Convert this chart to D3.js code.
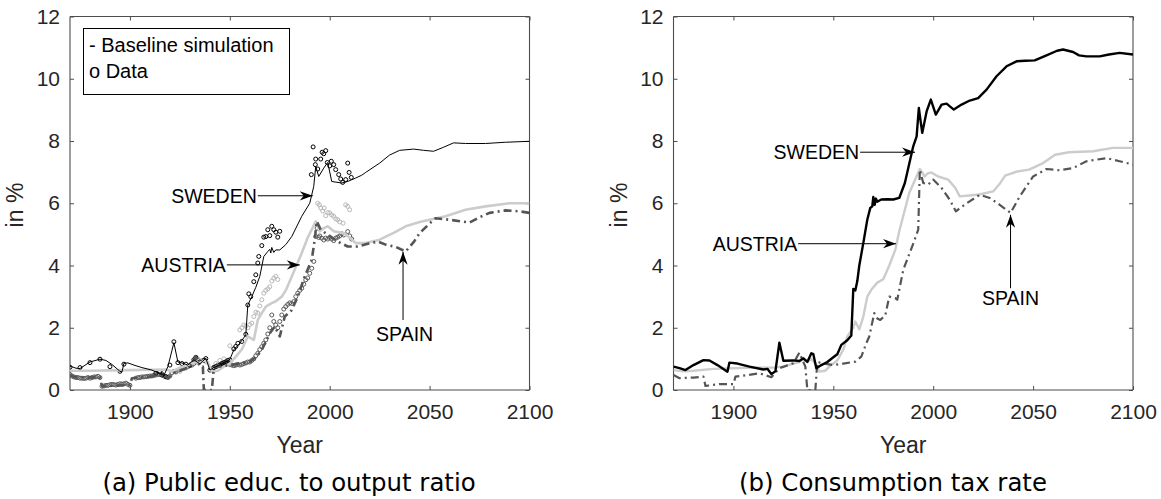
<!DOCTYPE html>
<html><head><meta charset="utf-8">
<script src="https://cdn.jsdelivr.net/npm/d3@7"></script>
<style>body{margin:0;background:#fff}svg{display:block}</style>
</head><body>
<svg id="chart" width="1161" height="499"></svg>
<script>
// ---------- DATA ----------
const xTicks = [1900, 1950, 2000, 2050, 2100];
const yTicks = [0, 2, 4, 6, 8, 10, 12];
const xDomain = [1870, 2100];
const yDomain = [0, 12];
const countries = ["SWEDEN", "AUSTRIA", "SPAIN"];
const panelTitles = ["(a) Public educ. to output ratio", "(b) Consumption tax rate"];
const legendLines = ["- Baseline simulation", "o Data"];

// Panel (a): simulated public education / output (%)
const eduSwedenSim = [[1870,0.77],[1873,0.7],[1875,0.69],[1880,0.9],[1885,0.99],[1888,0.95],[1891,0.82],[1895,0.6],[1896,0.58],[1897,0.86],[1899,0.87],[1902,0.8],[1906,0.72],[1911,0.64],[1914,0.55],[1917,0.47],[1919,0.75],[1922,1.52],[1924,0.9],[1927,0.85],[1929,0.8],[1932,0.97],[1935,0.84],[1938,1.02],[1940,0.64],[1942,0.72],[1945,0.8],[1948,0.9],[1950,0.98],[1952,1.29],[1955,1.5],[1958,1.77],[1959,2.73],[1961,3.0],[1963,3.3],[1965,3.65],[1967,4.29],[1969,4.45],[1970,4.52],[1970.5,4.4],[1971,4.58],[1972,4.42],[1973,4.5],[1975,4.5],[1978,4.67],[1981,4.93],[1986,5.58],[1990,6.0],[1992,6.54],[1993,7.18],[1994.5,6.86],[1997,7.13],[1999,7.31],[2001,6.7],[2006,6.65],[2009,6.7],[2013,6.81],[2016,6.9],[2018,6.99],[2025,7.29],[2030,7.55],[2035,7.7],[2042,7.74],[2047,7.7],[2052,7.67],[2057,7.8],[2062,7.94],[2068,7.92],[2078,7.92],[2088,7.96],[2100,7.99]];
const eduAustriaSim = [[1870,0.62],[1880,0.62],[1890,0.63],[1900,0.64],[1910,0.65],[1918,0.66],[1921,0.6],[1925,0.72],[1930,0.82],[1933,0.9],[1935,0.85],[1937,0.95],[1939,0.9],[1941,0.59],[1944,0.62],[1947,0.75],[1950,0.85],[1953,1.07],[1956,1.3],[1959,1.72],[1962,1.61],[1964,2.25],[1966,2.47],[1968,2.68],[1971,2.79],[1973,2.85],[1976,3.0],[1978,3.2],[1981,3.65],[1984,4.1],[1986,4.4],[1989,4.9],[1991,5.15],[1993,5.42],[1995,5.1],[1997,5.2],[1999,5.26],[2002,5.1],[2007,5.04],[2010,4.9],[2013,4.72],[2018,4.72],[2025,4.83],[2032,5.05],[2038,5.26],[2045,5.4],[2050,5.47],[2058,5.58],[2068,5.79],[2078,5.9],[2090,6.0],[2100,6.0]];
const eduSpainSim = [[1870,0.48],[1872,0.42],[1878,0.4],[1885,0.41],[1886,0.12],[1893,0.14],[1900,0.16],[1901,0.38],[1905,0.4],[1910,0.43],[1915,0.48],[1917,0.48],[1919,0.38],[1922,0.55],[1925,0.62],[1930,0.75],[1933,1.07],[1935,0.75],[1936.5,0.75],[1937,0],[1941,0],[1942,0.72],[1945,0.76],[1950,0.8],[1955,0.85],[1960,0.91],[1963,1.05],[1966,1.29],[1970,1.82],[1972.5,2.04],[1975,1.72],[1977.5,2.36],[1980,2.5],[1981,2.57],[1984,3.0],[1987.5,3.65],[1991,4.18],[1992.5,4.83],[1993.5,5.42],[1995.5,5.15],[1999,4.99],[2004,4.77],[2009,4.61],[2014,4.61],[2019,4.7],[2022,4.74],[2024,4.77],[2028,4.67],[2033,4.6],[2038,4.45],[2042,4.75],[2045,5.04],[2050,5.35],[2053,5.52],[2060,5.47],[2070,5.38],[2075,5.55],[2080,5.69],[2088,5.77],[2095,5.74],[2100,5.69]];

// Panel (a): observed data
const eduSwedenData = [[1870,0.73],[1875,0.72],[1880,0.88],[1885,0.99],[1890,0.75],[1895,0.6],[1897,0.83],[1913,0.54],[1915,0.59],[1916,0.48],[1918,0.43],[1920,0.8],[1922,1.55],[1924,0.88],[1926,0.85],[1928,0.83],[1930,0.8],[1932,0.97],[1933,1.05],[1935,0.9],[1937,0.95],[1938,1.01],[1940,0.64],[1942,0.72],[1943,0.75],[1945,0.8],[1946,0.85],[1947,0.88],[1948,0.9],[1949,0.95],[1950,0.97],[1952,1.32],[1953,1.4],[1954,1.5],[1956,1.56],[1958,1.79],[1959,2.73],[1959.5,3.09],[1960.5,3.0],[1962,3.48],[1963,3.7],[1964,4.08],[1964.5,4.29],[1966,4.64],[1967,4.91],[1968,4.93],[1969,5.15],[1970,4.96],[1971,5.26],[1972,5.15],[1973,5.07],[1974,4.91],[1975,5.1],[1990.8,6.92],[1991.7,7.81],[1992.8,7.24],[1993,7.42],[1994,7.1],[1995.5,7.42],[1996.2,7.64],[1997,7.59],[1998,7.69],[1998.8,7.31],[2000,7.2],[2000.8,7.35],[2002,7.24],[2003,7.08],[2004.5,6.92],[2005.5,6.78],[2006.5,6.67],[2008,6.76],[2009,7.29],[2009.7,6.99],[2010.8,6.83]];
const eduAustriaData = [[1925,0.6],[1928,0.7],[1931,0.85],[1934,1.0],[1936,0.95],[1938,0.9],[1943,0.85],[1945,0.95],[1947,1.0],[1948,0.92],[1950,1.42],[1955,1.93],[1956,2.0],[1957,2.09],[1958,2.05],[1959,2.0],[1960,2.1],[1961,2.15],[1962,2.36],[1963,2.5],[1964,2.47],[1965,2.7],[1966,2.9],[1967,3.11],[1968,3.2],[1969,3.25],[1970,3.32],[1971,3.5],[1972,3.59],[1973,3.65],[1974,3.55],[1994,6.0],[1994.8,5.95],[1995.5,5.85],[1996.5,5.75],[1997.2,5.85],[1998,5.6],[1999,5.7],[2000,5.69],[2001,5.62],[2002,5.58],[2003,5.5],[2004,5.47],[2005,5.4],[2006.7,5.36],[2008,5.95],[2009,5.9],[2010,5.79]];
const eduSpainData = [[1870,0.5],[1871,0.45],[1872,0.42],[1873,0.4],[1874,0.4],[1875,0.38],[1876,0.38],[1877,0.37],[1878,0.38],[1879,0.4],[1880,0.38],[1881,0.4],[1882,0.42],[1883,0.42],[1884,0.44],[1885,0.4],[1886,0.12],[1887,0.13],[1888,0.15],[1889,0.15],[1890,0.17],[1891,0.18],[1892,0.17],[1893,0.16],[1894,0.18],[1895,0.2],[1896,0.19],[1897,0.2],[1898,0.22],[1899,0.18],[1900,0.15],[1903,0.38],[1904,0.4],[1905,0.4],[1906,0.42],[1907,0.42],[1908,0.43],[1909,0.44],[1910,0.45],[1911,0.45],[1912,0.47],[1913,0.48],[1914,0.5],[1915,0.5],[1916,0.52],[1917,0.45],[1918,0.42],[1919,0.4],[1920,0.45],[1921,0.55],[1922,0.6],[1923,0.58],[1924,0.62],[1925,0.65],[1926,0.7],[1927,0.7],[1928,0.72],[1929,0.75],[1930,0.78],[1931,0.8],[1932,0.85],[1933,0.9],[1934,0.95],[1942,0.72],[1943,0.75],[1944,0.8],[1945,0.82],[1946,0.8],[1947,0.85],[1948,0.83],[1949,0.85],[1950,0.82],[1951,0.8],[1952,0.78],[1953,0.8],[1954,0.82],[1955,0.8],[1956,0.82],[1957,0.85],[1958,0.87],[1959,0.9],[1960,0.9],[1961,0.95],[1962,1.0],[1963,1.1],[1964,1.18],[1965,1.3],[1966,1.39],[1967,1.5],[1968,1.61],[1969,1.8],[1970,2.0],[1971,2.41],[1972,2.2],[1973,2.09],[1974,2.0],[1975,2.2],[1976,2.41],[1977,2.6],[1978,2.68],[1979,2.75],[1980,2.8],[1981,2.78],[1982,2.84],[1983,3.0],[1984,3.11],[1985,3.2],[1986,3.27],[1987,3.4],[1988,3.54],[1989,3.6],[1990,3.75],[1991,3.91],[1992,4.13],[1993,4.93],[1993.7,5.2],[1994.5,4.9],[1995,4.95],[1996,4.88],[1997,4.82],[1998,4.88],[1999,4.85],[2000,4.9],[2001,4.85],[2002,4.8],[2003,4.88],[2004,4.91],[2005,4.95],[2006,5.02],[2007,4.98],[2009,5.09],[2010,4.95],[2011,4.85]];

// Panel (b): simulated consumption tax rate (%)
const taxSwedenSim = [[1870,0.75],[1873,0.7],[1876,0.64],[1880,0.8],[1885,0.96],[1888,0.95],[1892,0.8],[1897,0.59],[1898,0.88],[1902,0.85],[1908,0.75],[1915,0.66],[1917,0.68],[1919,0.51],[1921,0.6],[1923,1.52],[1925,0.94],[1930,0.95],[1933,0.93],[1935,1.02],[1937,0.9],[1939,1.18],[1940,1.15],[1941.5,0.7],[1944,0.8],[1947,0.9],[1950,1.05],[1952,1.15],[1954,1.45],[1957,1.6],[1959,1.75],[1960,3.25],[1961,3.2],[1962,3.5],[1963,4.0],[1965,4.72],[1967,5.47],[1968.5,5.85],[1969.5,5.9],[1970,6.2],[1970.7,5.95],[1971.3,6.15],[1972,6.05],[1974,6.12],[1977,6.13],[1980,6.12],[1983,6.17],[1985.8,6.65],[1990,7.83],[1991.7,8.15],[1992.8,9.06],[1994.5,8.26],[1996.7,8.95],[1998.8,9.33],[2001.3,8.85],[2004.2,9.17],[2006.7,9.2],[2010.3,9.01],[2014.2,9.17],[2018.3,9.3],[2022.5,9.38],[2026.7,9.65],[2031.7,10.08],[2036.7,10.4],[2041.7,10.56],[2046,10.58],[2050.8,10.59],[2056.7,10.75],[2062,10.9],[2065,10.94],[2070,10.86],[2073,10.75],[2076.7,10.72],[2083.3,10.72],[2088,10.78],[2093.3,10.83],[2100,10.78]];
const taxAustriaSim = [[1870,0.64],[1875,0.6],[1880,0.62],[1890,0.68],[1900,0.7],[1910,0.72],[1920,0.72],[1925,0.75],[1930,0.85],[1933,0.9],[1935,1.0],[1937,0.92],[1939,1.0],[1941,0.85],[1943,0.59],[1946,0.62],[1948,0.75],[1952,0.95],[1955,1.3],[1957,1.72],[1960,2.0],[1961,2.2],[1963,1.95],[1965,2.36],[1967,3.0],[1969,3.22],[1972,3.45],[1975,3.56],[1978,4.0],[1981,4.5],[1983,5.1],[1988,6.33],[1993.3,7.1],[1995.8,6.86],[1997,6.95],[1999,6.99],[2002.5,6.86],[2007.5,6.76],[2011,6.5],[2013.3,6.22],[2018,6.25],[2023,6.28],[2030,6.38],[2033,6.6],[2036,6.89],[2042,7.02],[2048,7.08],[2055,7.29],[2061,7.56],[2068,7.64],[2080,7.67],[2090,7.78],[2100,7.78]];
const taxSpainSim = [[1870,0.48],[1873,0.38],[1880,0.4],[1885,0.43],[1886,0.13],[1893,0.19],[1900,0.19],[1901,0.43],[1907,0.48],[1913,0.54],[1919,0.41],[1923,0.7],[1930,0.86],[1933,1.2],[1935,0.9],[1936,0.75],[1937,0],[1941,0],[1942,0.9],[1945,0.85],[1950,0.8],[1955,0.85],[1961,0.91],[1964,1.07],[1966.5,1.5],[1968,1.72],[1970.5,2.47],[1972,2.3],[1973.5,2.25],[1976,2.4],[1978,3.0],[1981,2.95],[1982,2.9],[1985,3.86],[1990,4.7],[1992.5,5.15],[1993.3,7.08],[1995,6.65],[1997.5,6.6],[2000,6.76],[2004.2,6.49],[2008.3,6.11],[2011.3,5.74],[2016.7,6.0],[2023.3,6.27],[2028.3,6.17],[2033.3,5.95],[2038.7,5.69],[2043.3,6.22],[2050,6.86],[2056.7,7.1],[2063.3,7.06],[2070,7.13],[2076.7,7.35],[2086.7,7.45],[2093.3,7.35],[2100,7.24]];

// Annotations: [label, text anchor year, text value, arrow start year, start value, tip year, tip value]
const eduAnnotations = [["SWEDEN",1963.5,6.24,1964,6.24,1991.5,6.24],["AUSTRIA",1948,4.02,1948.5,4.02,1985,4.02],["SPAIN",2037.5,1.8,2036.7,2.25,2036.7,4.44]];
const taxAnnotations = [["SWEDEN",1962.9,7.64,1963.4,7.64,1990.9,7.64],["AUSTRIA",1931.9,4.7,1932.4,4.7,1981.4,4.7],["SPAIN",2038.7,2.96,2038.7,3.27,2038.7,5.63]];

// ---------- DRAW ----------
const svg = d3.select("#chart");
const plotTop = 16.5, plotBottom = 390;
const panels = [
  {x0: 70, x1: 529.5, title: panelTitles[0], titleX: 289,
   sims: [eduSwedenSim, eduAustriaSim, eduSpainSim],
   data: [eduSwedenData, eduAustriaData, eduSpainData],
   widths: [1, 2.6, 2.6], ann: eduAnnotations, legend: true},
  {x0: 673.5, x1: 1133, title: panelTitles[1], titleX: 893,
   sims: [taxSwedenSim, taxAustriaSim, taxSpainSim],
   data: null, widths: [2.4, 2.4, 2.2], ann: taxAnnotations, legend: false}
];
const lineColors = ["#000000", "#cccccc", "#555555"];
const dotColors = ["#000000", "#b8b8b8", "#5a5a5a"];
const dashes = [null, null, "8,4,2,4"];
const FONT = "'Liberation Sans', Arial, Helvetica, sans-serif";

const defs = svg.append("defs");
defs.append("marker").attr("id","arr").attr("viewBox","-14 -6 16 12")
  .attr("refX",0).attr("refY",0).attr("markerWidth",16).attr("markerHeight",12)
  .attr("markerUnits","userSpaceOnUse").attr("orient","auto")
  .append("path").attr("d","M0,0 L-13,-4.6 L-9,0 L-13,4.6 Z").attr("fill","#000");

panels.forEach((p, i) => {
  const x = d3.scaleLinear().domain(xDomain).range([p.x0, p.x1]);
  const y = d3.scaleLinear().domain(yDomain).range([plotBottom, plotTop]);
  const g = svg.append("g");
  defs.append("clipPath").attr("id","clip"+i).append("rect")
    .attr("x",p.x0).attr("y",plotTop).attr("width",p.x1-p.x0).attr("height",plotBottom-plotTop);

  const axB = g.append("g").attr("transform",`translate(0,${plotBottom})`)
    .call(d3.axisBottom(x).tickValues(xTicks).tickSize(-4).tickPadding(10).tickFormat(d3.format("d")));
  const axT = g.append("g").attr("transform",`translate(0,${plotTop})`)
    .call(d3.axisTop(x).tickValues(xTicks).tickSize(-4).tickFormat(""));
  const axL = g.append("g").attr("transform",`translate(${p.x0},0)`)
    .call(d3.axisLeft(y).tickValues(yTicks).tickSize(-4).tickPadding(10));
  const axR = g.append("g").attr("transform",`translate(${p.x1},0)`)
    .call(d3.axisRight(y).tickValues(yTicks).tickSize(-4).tickFormat(""));
  [axB, axT, axL, axR].forEach(a => {
    a.select(".domain").attr("stroke","#4d4d4d").attr("stroke-width",1.1);
    a.selectAll(".tick line").attr("stroke","#4d4d4d");
    a.selectAll("text").attr("fill","#262626").style("font-family",FONT).style("font-size","21px");
  });
  axB.selectAll(".domain").attr("d",`M${p.x0},0H${p.x1}`);
  axT.selectAll(".domain").attr("d",`M${p.x0},0H${p.x1}`);
  axL.selectAll(".domain").attr("d",`M0,${plotTop}V${plotBottom}`);
  axR.selectAll(".domain").attr("d",`M0,${plotTop}V${plotBottom}`);
  axB.selectAll("text").attr("dy","0.71em").attr("y",14);

  g.append("text").attr("x",(p.x0+p.x1)/2).attr("y",453).attr("text-anchor","middle")
    .attr("fill","#262626").style("font-family",FONT).style("font-size","23px").text("Year");
  g.append("text").attr("transform",`translate(${p.x0-47},${205}) rotate(-90)`).attr("text-anchor","middle")
    .attr("fill","#262626").style("font-family",FONT).style("font-size","23px").text("in %");
  g.append("text").attr("x",p.titleX).attr("y",491).attr("text-anchor","middle")
    .attr("fill","#000").style("font-family","'DejaVu Sans', Verdana, sans-serif").style("font-size","24.4px").text(p.title);

  const plot = g.append("g").attr("clip-path",`url(#clip${i})`);
  const line = d3.line().x(d => x(d[0])).y(d => y(d[1]));

  if (p.data) {
    [2, 1, 0].forEach(k => {
      plot.append("g").selectAll("circle").data(p.data[k]).join("circle")
        .attr("cx", d => x(d[0])).attr("cy", d => y(d[1])).attr("r", 2)
        .attr("fill","none").attr("stroke", dotColors[k]).attr("stroke-width", 1);
    });
  }
  [1, 2, 0].forEach(k => {
    plot.append("path").datum(p.sims[k]).attr("d", line)
      .attr("fill","none").attr("stroke", lineColors[k]).attr("stroke-width", p.widths[k])
      .attr("stroke-linejoin","round")
      .attr("stroke-dasharray", dashes[k]);
  });

  p.ann.forEach(a => {
    const [lab, tx, tv, sx, sv, ex, ev] = a;
    const vertical = sx === ex;
    g.append("text").attr("x", x(tx)).attr("y", y(tv)).attr("dy","0.36em")
      .attr("text-anchor", vertical ? "middle" : "end")
      .attr("fill","#000").style("font-family",FONT).style("font-size","19.5px").text(lab);
    g.append("line").attr("x1", x(sx)).attr("y1", y(sv)).attr("x2", x(ex)).attr("y2", y(ev))
      .attr("stroke","#000").attr("stroke-width",1).attr("marker-end","url(#arr)");
  });

  if (p.legend) {
    const lg = g.append("g");
    lg.append("rect").attr("x",83.5).attr("y",28.5).attr("width",206).attr("height",66)
      .attr("fill","#fff").attr("stroke","#000").attr("stroke-width",1);
    legendLines.forEach((t, j) => {
      lg.append("text").attr("x",89).attr("y",52 + j*26).attr("fill","#000")
        .style("font-family",FONT).style("font-size","20px").text(t);
    });
  }
});
</script>
</body></html>
